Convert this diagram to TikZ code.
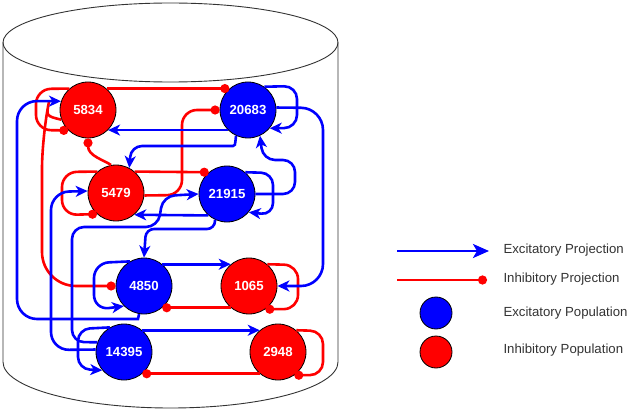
\documentclass[tikz,border=0pt]{standalone}
\usepackage{fontspec}
\setmainfont{Liberation Sans}
\usetikzlibrary{arrows.meta}
\tikzset{
	tank/.style={draw=black!80,line width=0.9pt},
	epop/.style={circle,draw=black,line width=0.8pt,fill=blue,text=white,
		minimum size=56pt,inner sep=0pt,font=\bfseries\fontsize{13.2}{15}\selectfont},
	ipop/.style={epop,fill=red},
	exc/.style={draw=blue,line width=2.6pt,rounded corners=12pt,
		-{Stealth[length=12pt,width=11pt,inset=3.5pt]}},
	inh/.style={draw=red,line width=2.6pt,rounded corners=12pt,-{Circle[length=9pt]}},
	legtext/.style={anchor=west,text=black!80,font=\fontsize{13.2}{15}\selectfont}
}

\begin{document}
\begin{tikzpicture}[x=1pt,y=-1pt]
\useasboundingbox (0,0) rectangle (630,412);

% the tank
\draw[tank] (170.5,42.5) ellipse [x radius=167.5pt, y radius=39.5pt];
\draw[tank] (3,42.5) -- (3,362) arc[start angle=180, end angle=360, x radius=167.5pt, y radius=46pt] -- (338,42.5);

% populations
\node[ipop] (n5834) at (88,110) {5834};
\node[epop] (n20683) at (248,110) {20683};
\node[ipop] (n5479) at (116,193) {5479};
\node[epop] (n21915) at (227,194) {21915};
\node[epop] (n4850) at (144,286) {4850};
\node[ipop] (n1065) at (249,286) {1065};
\node[epop] (n14395) at (124,352) {14395};
\node[ipop] (n2948) at (278,352) {2948};

% inhibitory projections
\draw[inh,rounded corners=15pt] (n5834.131) -- (36,89) -- (36,130) -- (n5834.226);
\draw[inh] (n5834.49) -- (n20683.131);
\draw[inh,rounded corners=34pt] (n5834.200) .. controls (46,116) .. (42,135) -- (42,286) -- (n4850.west);
\draw[inh,rounded corners=15pt] (n5479.131) -- (62,172) -- (62,215) -- (n5479.228);
\draw[inh] (n5479.49) -- (n21915.130);
\draw[inh,rounded corners=15pt] (n5479.-5) -- (182,195) -- (182,110) -- (n20683.west);
\draw[inh] (n5479.100) .. controls (104,160) and (88,156) .. (n5834.south);
\draw[inh] (n1065.230) -- (n4850.-50);
\draw[inh,rounded corners=14pt] (n1065.50) -- (298,265) -- (298,309) -- (n1065.-55);
\draw[inh] (n2948.230) -- (n14395.-50);
\draw[inh,rounded corners=13pt] (n2948.50) -- (323,331) -- (323,375) -- (n2948.-55);

% excitatory projections
\draw[exc] (n20683.225) -- (n5834.-45);
\draw[exc,rounded corners=11pt] (n20683.-115) .. controls (235,146) .. (222,146) -- (131,146) -- (n5479.62);
\draw[exc,rounded corners=13pt] (n20683.55) -- (297,86) -- (297,128) -- (n20683.-40);
\draw[exc,rounded corners=22pt] (n20683.5) -- (323,108) -- (323,286) -- (n1065.east);
\draw[exc] (n21915.east) -- (295,194) -- (295,160) -- (263,160) -- (n20683.-65);
\draw[exc] (n21915.50) -- (273,173) -- (273,215) -- (n21915.-40);
\draw[exc] (n21915.229) -- (n5479.-50);
\draw[exc,rounded corners=8pt] (n21915.245) |- (146,229) -- (n4850.north);
\draw[exc] (n4850.50) -- (n1065.130);
\draw[exc,rounded corners=15pt] (n4850.120) -- (94,263) -- (94,310) -- (n4850.-135);
\draw[exc,rounded corners=20pt] (n4850.-100) .. controls (138,319) .. (118,319) -- (17,319) -- (17,101) -- (n5834.162);
\draw[exc] (n14395.50) -- (n2948.130);
\draw[exc] (n14395.120) -- (78,329) -- (78,369) -- (n14395.-140);
\draw[exc,rounded corners=18pt] (n14395.175) -- (51,350) -- (51,192) -- (n5479.176);
\draw[exc] (n14395.160) -- (72,342) -- (72,227) -- (158,227) -- (163,196) -- (n21915.180);

% legend
\coordinate (le1) at (397,251);
\coordinate (le2) at (489,251);
\coordinate (li1) at (397,280);
\coordinate (li2) at (487,280);
\draw[exc,-{Stealth[length=16pt,width=14pt,inset=4pt]}] (le1) -- (le2);
\draw[inh] (li1) -- (li2);
\node[epop,minimum size=32pt] (lgE) at (436,313) {};
\node[ipop,minimum size=32pt] (lgI) at (436,352) {};
\node[legtext] (tEP) at (500,250) {Excitatory Projection};
\node[legtext] (tIP) at (500,279) {Inhibitory Projection};
\node[legtext] (tEPop) at (500,313) {Excitatory Population};
\node[legtext] (tIPop) at (500,350) {Inhibitory Population};

\end{tikzpicture}
\end{document}
